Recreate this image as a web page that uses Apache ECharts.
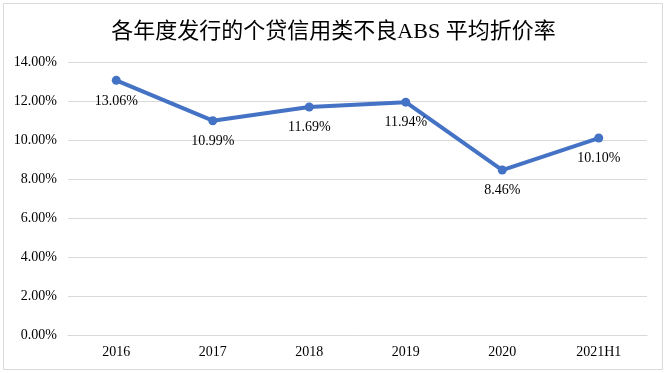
<!DOCTYPE html>
<html><head><meta charset="utf-8">
<script src="https://cdn.jsdelivr.net/npm/echarts@6/dist/echarts.min.js"></script>
<style>html,body{margin:0;padding:0;background:#fff}#c{width:667px;height:373px}</style>
</head><body><div id="c"></div>
<script>
var categories = ['2016','2017','2018','2019','2020','2021H1'];
var rates = [13.06, 10.99, 11.69, 11.94, 8.46, 10.10];
var titleText = '各年度发行的个贷信用类不良ABS 平均折价率';
var serif = '"Times New Roman","Liberation Serif","Noto Sans CJK SC",serif';
var chart = echarts.init(document.getElementById('c'));
chart.setOption({
  animation: false,
  backgroundColor: '#fff',
  graphic: [{type:'rect', shape:{x:3.5,y:3.5,width:659,height:366}, style:{fill:'none',stroke:'#d9d9d9',lineWidth:1}, silent:true}],
  title: {text: titleText, left: 'center', top: 16, textStyle:{fontFamily: serif, fontSize: 22, fontWeight:'normal', color:'#000'}},
  grid: {left: 68, right: 20, top: 62, bottom: 38},
  xAxis: {type:'category', data: categories, boundaryGap: true,
    axisLine:{lineStyle:{color:'#d9d9d9'}}, axisTick:{show:false},
    axisLabel:{fontFamily: serif, fontSize: 14, color:'#000', margin: 10}},
  yAxis: {type:'value', min:0, max:14, interval:2,
    axisLine:{show:false}, axisTick:{show:false},
    splitLine:{lineStyle:{color:'#d9d9d9'}},
    axisLabel:{fontFamily: serif, fontSize: 14, color:'#000', margin: 11, formatter: function(v){return v.toFixed(2)+'%';}}},
  series: [{type:'line', data: rates, symbol:'circle', symbolSize:9,
    lineStyle:{color:'#4472C4', width:4}, itemStyle:{color:'#4472C4'},
    label:{show:true, position:'bottom', distance:9, fontFamily: serif, fontSize: 14, color:'#000',
      formatter: function(p){return p.value.toFixed(2)+'%';}}}]
});
</script></body></html>
